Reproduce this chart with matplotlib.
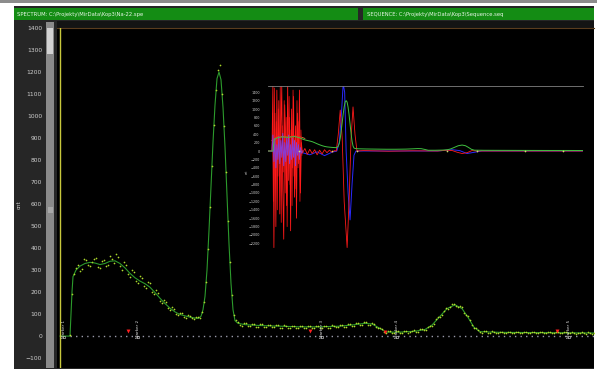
import numpy as np
import matplotlib
matplotlib.use("Agg")
import matplotlib.pyplot as plt
from matplotlib.patches import Rectangle

# ---------------- data ----------------
header_left = r"SPECTRUM: C:\Projekty\MirData\Kop3\Na-22.spe"
header_right = r"SEQUENCE: C:\Projekty\MirData\Kop3\Sequence.seq"

y_ticks = [-100, 0, 100, 200, 300, 400, 500, 600, 700, 800, 900, 1000, 1100, 1200, 1300, 1400]
inset_ticks = [1400, 1200, 1000, 800, 600, 400, 200, 0, -200, -400, -600, -800, -1000,
               -1200, -1400, -1600, -1800, -2000, -2200]

# smoothed spectrum (channel, counts)
spec_ch = [10, 30, 32, 34, 36, 42, 50, 60, 70, 80, 90, 100, 110, 120, 130, 140, 150, 160,
           170, 180, 190, 200, 210, 220, 230, 240, 250, 260, 270, 280, 286, 292, 296, 300,
           304, 308, 312, 316, 320, 324, 328, 332, 336, 340, 344, 348, 352, 356, 360, 366,
           380, 410, 450, 490, 530, 570, 600, 620, 634, 650, 662, 690, 720, 740, 754, 770,
           784, 800, 814, 826, 838, 850, 890, 950, 1010, 1080, 1150, 1220, 1290]
spec_fit = [0, 0, 100, 200, 270, 300, 318, 330, 335, 332, 325, 330, 340, 342, 330, 310, 285,
            265, 250, 238, 222, 198, 172, 148, 127, 110, 98, 92, 86, 82, 80, 90, 120, 180,
            300, 480, 680, 880, 1050, 1170, 1200, 1165, 1040, 860, 640, 420, 240, 120, 70,
            58, 52, 48, 45, 42, 42, 45, 52, 58, 55, 35, 18, 18, 22, 30, 50, 90, 125, 142,
            125, 85, 40, 20, 17, 16, 15, 14, 13, 13, 12]

# measured counts, every 8 channels starting at channel 30
counts_a = [5, 280, 325, 305, 345, 320, 350, 312, 340, 318, 365, 330, 358, 300, 322, 270,
            290, 240, 262, 220, 240, 190, 195, 150, 155, 118, 122, 95, 104, 84, 93, 78, 86,
            110, 245, 585, 960, 1210, 1100, 745, 335, 98, 64, 48, 58, 45, 55, 42, 53, 41, 51,
            40, 50, 39, 48, 38, 47, 37, 46, 38, 45, 37, 47, 38, 47, 39, 48, 41, 50, 43, 55,
            48, 60, 52, 63, 52, 57, 36, 32, 15, 22, 15, 21, 15, 23, 17, 26, 20, 31, 28, 48,
            54, 86, 95, 126, 130, 148, 132, 130, 95, 75, 36, 28, 16, 21, 15, 20, 14, 19, 14,
            19, 13, 18, 14, 19, 13, 18, 13, 18, 12, 17, 13, 18, 12, 17, 12, 16, 12, 17, 11,
            16, 12]
# measured counts, every 8 channels starting at channel 34
counts_b = [190, 310, 295, 352, 325, 338, 355, 308, 345, 322, 350, 372, 318, 335, 280, 300,
            250, 272, 228, 245, 200, 210, 160, 165, 126, 130, 100, 105, 86, 95, 80, 88, 80,
            155, 395, 775, 1120, 1230, 955, 525, 185, 72, 50, 58, 46, 56, 43, 54, 42, 52, 40,
            51, 39, 49, 38, 48, 37, 47, 36, 46, 38, 47, 36, 48, 38, 49, 40, 52, 42, 54, 46,
            59, 50, 64, 52, 60, 42, 38, 19, 23, 14, 22, 14, 23, 16, 25, 19, 30, 26, 42, 46,
            76, 86, 116, 122, 145, 135, 137, 106, 90, 50, 39, 17, 22, 15, 21, 14, 20, 14, 20,
            13, 19, 13, 18, 14, 19, 13, 18, 12, 17, 13, 18, 12, 17, 12, 17, 11, 16, 12, 17,
            11]
counts_step = 8
counts_a_start, counts_b_start = 30, 34

marker_ch = [18, 166, 534, 684, 1028]
marker_labels = ["Marker 1", "Marker 2", "Marker 3", "Marker 4", "Marker 5"]
roi_ch = [146, 510, 660, 1004]
roi_val = [23, 23, 20, 23]

# inset: derivative / filter sequences
red_ch = [10, 26, 30, 34, 38, 42, 46, 50, 54, 58, 62, 66, 70, 74, 78, 82, 86, 90, 94, 98,
          102, 106, 110, 114, 118, 122, 126, 130, 134, 138, 142, 146, 150, 160, 170, 180,
          190, 200, 210, 220, 230, 240, 250, 260, 270, 280, 288, 296, 304, 312, 320, 332,
          340, 348, 356, 364, 372, 400, 500, 600, 700, 740, 760, 780, 800, 820, 840, 860,
          900, 1000, 1100, 1200, 1290]
red_val = [0, 0, 1600, -2300, 900, -1800, 1450, -600, 1200, -1500, 400, 1550, -900, -2100,
           1100, 300, -1300, 1600, -700, 800, -1900, 1000, -400, 1300, -1100, 600, -1600,
           900, -300, 1450, -1000, 200, -50, 60, -80, 40, -60, 30, -90, 20, -70, 30, -40,
           20, -30, 10, 0, 400, 975, 300, -1200, -2300, -1200, 300, 1050, 400, 0, 10, -5,
           5, 0, 20, 10, -30, -60, -40, 10, 0, 0, 0, 0, 0, 0]
red2_ch = [28, 32, 36, 40, 44, 48, 52, 56, 60, 64, 68, 72, 76, 80, 84, 88, 92, 96, 100, 104,
           108, 112, 116, 120, 124, 128, 132, 136, 140, 144, 148]
red2_val = [900, -1200, 1500, -600, 700, -1400, 1000, -300, 1550, -1700, 600, -500, 1200,
            -1000, 800, -1800, 400, 1300, -800, 500, -1300, 1450, -600, 300, -900, 1200,
            -400, 700, -1200, 500, -100]
blue_ch = [10, 150, 180, 210, 240, 270, 290, 300, 308, 316, 322, 328, 336, 344, 352, 360,
           368, 400, 700, 760, 790, 820, 850, 880, 1290]
blue_val = [0, -40, -90, -20, -110, -30, 0, 200, 800, 1600, 1400, 0, -1000, -1640, -800,
            -100, 0, 0, 0, 30, 10, -60, -30, 0, 0]
purple_ch = [26, 30, 34, 38, 42, 46, 50, 54, 58, 62, 66, 70, 74, 78, 82, 86, 90, 94, 98,
             102, 106, 110, 114, 118, 122, 126, 130, 134, 138, 142, 146, 150]
purple_val = [0, 380, -250, 300, -400, 150, -200, 350, -300, 250, -150, 420, -350, 200,
              -250, 300, -100, 380, -300, 150, -200, 300, -150, 250, -350, 200, -100, 150,
              -200, 80, -50, 0]
orange_ch = [26, 40, 60, 80, 100, 120, 140, 160]
orange_val = [250, 330, 345, 350, 345, 355, 340, 300]
inset_mark_ch = [137, 271, 373, 739, 861, 1056, 1210]

# ---------------- layout helpers ----------------
W, H = 597, 372
fig = plt.figure(figsize=(W / 100, H / 100), dpi=100, facecolor="white")


def box(x0, y0, x1, y1):
    return [x0 / W, 1 - y1 / H, (x1 - x0) / W, (y1 - y0) / H]


def rect(x0, y0, x1, y1, color):
    b = box(x0, y0, x1, y1)
    fig.patches.append(Rectangle((b[0], b[1]), b[2], b[3], transform=fig.transFigure,
                                 facecolor=color, edgecolor="none", zorder=-10))


rect(0, 0, 597, 3, "#8c8c8c")
rect(14, 6, 594, 369, "#262626")
rect(14, 8, 358, 20, "#148c14")
rect(363, 8, 594, 20, "#148c14")
rect(57, 21, 594, 28, "#141414")
rect(46, 22, 54, 368, "#8a8a8a")
rect(46.7, 28, 53.3, 54, "#d2d2d2")
rect(47.5, 207, 52.5, 213, "#a8a8a8")
# inset side column and scrollbar
rect(243, 85, 263, 252, "#2a2a2a")
rect(263, 85, 267, 252, "#9c9c9c")
rect(263.5, 86, 266.5, 142, "#c4c4c4")
rect(263.5, 186, 266.5, 250, "#c4c4c4")

fig.text(17 / W, 1 - 14.5 / H, header_left, fontsize=3.8, color="#e6f6e6", va="center",
         ha="left")
fig.text(367 / W, 1 - 14.5 / H, header_right, fontsize=3.8, color="#e6f6e6", va="center",
         ha="left")
fig.text(19 / W, 1 - 205 / H, "cnt", fontsize=4, color="#cccccc", rotation=90,
         va="center", ha="center")

# ---------------- main axes ----------------
ax = fig.add_axes(box(57, 28, 594, 368))
ax.set_zorder(1)
ax.set_facecolor("black")
ax.set_xlim(4, 1078)
ax.set_ylim(-145, 1400)
for s in ["left", "right", "bottom"]:
    ax.spines[s].set_visible(False)
ax.spines["top"].set_color("#5a3c1e")
ax.spines["top"].set_linewidth(0.8)
ax.set_xticks([])
ax.set_yticks(y_ticks)
ax.tick_params(axis="y", length=0, pad=10.8, labelsize=4.3, labelcolor="#cfcfcf")

ax.hlines(0, counts_a_start, ax.get_xlim()[1], colors="#9a9aaa", linestyles=(0, (1, 3)),
          lw=1.0, zorder=1)
ax.axvline(10, color="#c8c83c", lw=1.0, zorder=4)
ax.plot(spec_ch, spec_fit, color="#2c9a2c", lw=0.8, zorder=2)
dot_a = counts_a_start + counts_step * np.arange(len(counts_a))
dot_b = counts_b_start + counts_step * np.arange(len(counts_b))
ax.scatter(dot_a, counts_a, s=1.5, color="#b4dc30", lw=0, zorder=3)
ax.scatter(dot_b, counts_b, s=1.5, color="#a6d428", lw=0, zorder=3)

for c, lab in zip(marker_ch, marker_labels):
    ax.text(c, -8, lab, rotation=90, fontsize=3.0, color="#e0e0e0", ha="center",
            va="bottom", zorder=5)
    ax.plot([c], [-3], marker="o", ms=1.8, mfc="none", mec="#e0e0e0", mew=0.4, zorder=5)
ax.scatter(roi_ch, roi_val, marker="v", s=8, color="#ff2020", lw=0, zorder=5)

# ---------------- inset ----------------
fig.text(247 / W, 1 - 172 / H, "cnt", fontsize=2, color="#dddddd", rotation=90,
         va="center", ha="center", zorder=10)

ins = fig.add_axes(box(268, 86, 583, 252))
ins.set_zorder(2)
ins.set_facecolor("black")
ins.set_xlim(10, 1292)
ins.set_ylim(-2405, 1548)
for s in ["left", "right", "bottom"]:
    ins.spines[s].set_visible(False)
ins.spines["top"].set_color("#808080")
ins.spines["top"].set_linewidth(0.6)
ins.set_xticks([])
ins.set_yticks(inset_ticks)
ins.tick_params(axis="y", length=0, pad=6, labelsize=2.4, labelcolor="#d0d0d0")

ins.plot(orange_ch, orange_val, color="#e08040", lw=0.6, zorder=2)
ins.plot(red2_ch, red2_val, color="#e01010", lw=0.6, zorder=2)
ins.plot(purple_ch, purple_val, color="#8a3ad0", lw=0.7, zorder=3)
ins.plot(blue_ch, blue_val, color="#2a2aff", lw=0.7, zorder=2)
ins.plot(red_ch, red_val, color="#ff1a1a", lw=0.6, zorder=2)
ins.plot(spec_ch, spec_fit, color="#40c040", lw=0.7, zorder=4)
ins.scatter(inset_mark_ch, [0] * len(inset_mark_ch), s=1.5, color="#d0e070", lw=0,
            zorder=5)

fig.savefig("out.png", dpi=100, facecolor="white")
